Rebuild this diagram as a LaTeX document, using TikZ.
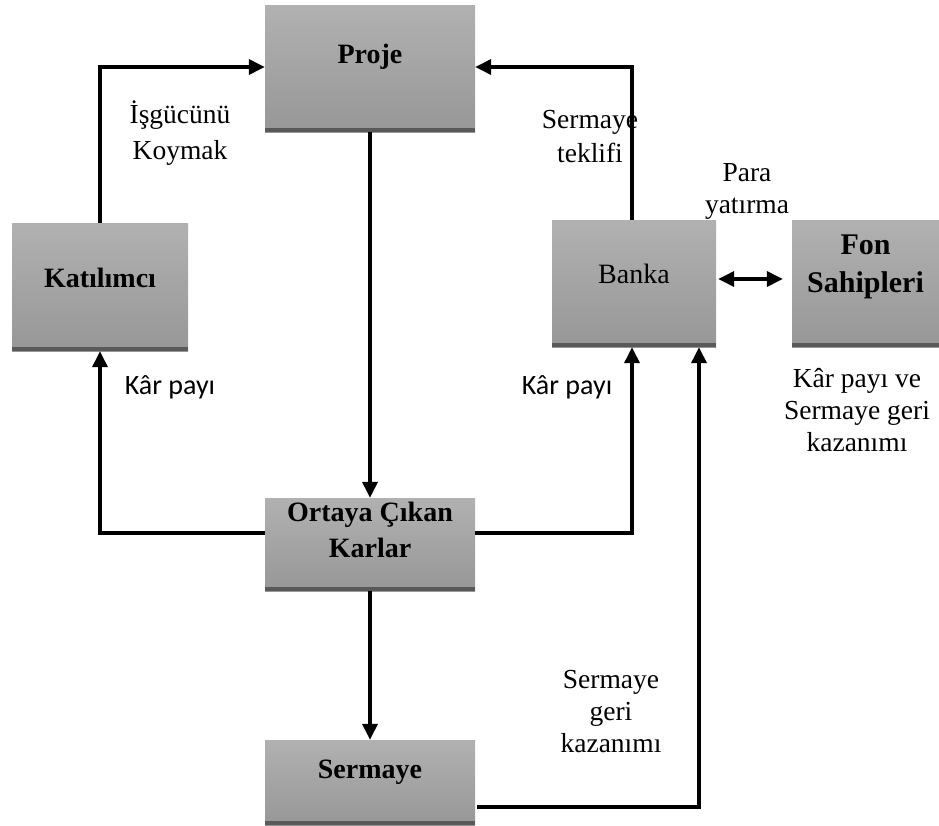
\documentclass[tikz,border=0pt]{standalone}
\usepackage{fontspec}
\setmainfont{Liberation Serif}
\newfontfamily\labelsans{Carlito}
\usetikzlibrary{arrows.meta}
\definecolor{boxtop}{HTML}{B1B1B1}
\definecolor{boxbottom}{HTML}{979797}
\definecolor{boxbar}{HTML}{595959}
\begin{document}
\begin{tikzpicture}[x=1pt,y=-1pt,
  box/.style={rectangle, inner sep=0pt, top color=boxtop, bottom color=boxbottom,
    path picture={\fill[boxbar] (path picture bounding box.south west)
      rectangle ([yshift=4pt]path picture bounding box.south east);}},
  boxtext/.style={font=\fontsize{28}{36}\selectfont\bfseries, align=center, inner sep=0pt},
  banktext/.style={font=\fontsize{28}{36}\selectfont, align=center, inner sep=0pt},
  note/.style={font=\fontsize{27.5}{32}\selectfont, align=center, inner sep=0pt},
  sansnote/.style={font=\labelsans\fontsize{28}{32}\selectfont, inner sep=0pt},
  flow/.style={line width=3.5pt, -{Triangle[length=16pt,width=15pt]}},
  both/.style={line width=3.5pt, {Triangle[length=16pt,width=15pt]}-{Triangle[length=16pt,width=15pt]}},
]
\useasboundingbox (0,0) rectangle (939,825);

% boxes
\node[box, minimum width=210pt, minimum height=127pt] (proje) at (370,68.5) {};
\node[box, minimum width=176pt, minimum height=128pt] (kat) at (100,287) {};
\node[box, minimum width=164pt, minimum height=127pt] (banka) at (634,283.5) {};
\node[box, minimum width=147pt, minimum height=127pt] (fon) at (865.5,283.5) {};
\node[box, minimum width=210pt, minimum height=93pt] (ort) at (370,544.5) {};
\node[box, minimum width=210pt, minimum height=85pt] (serm) at (370,782.5) {};

% box captions
\node[boxtext] (projeT) at ([yshift=12pt]proje.center) {Proje};
\node[boxtext] (katT) at ([yshift=9pt]kat.center) {Katılımcı};
\node[banktext] (bankaT) at ([yshift=10pt]banka.center) {Banka};
\node[boxtext, font=\fontsize{30}{38}\selectfont\bfseries] (fonT) at ([yshift=17pt]fon.center) {Fon\\Sahipleri};
\node[boxtext] (ortT) at ([yshift=15pt]ort.center) {Ortaya Çıkan\\Karlar};
\node[boxtext] (sermT) at ([yshift=10pt]serm.center) {Sermaye};

% flows
\draw[flow] (kat.north) |- ([yshift=1.5pt]proje.west);
\draw[flow] (proje.south) -- (ort.north);
\draw[flow] ([yshift=11.5pt]ort.west) -| (kat.south);
\draw[flow] ([yshift=11.5pt]ort.east) -| ([xshift=-2pt]banka.south);
\draw[flow] ([xshift=-2pt]banka.north) |- ([yshift=1.5pt]proje.east);
\draw[both, shorten <=2pt, shorten >=9pt] ([yshift=4.5pt]banka.east) -- ([yshift=4.5pt]fon.west);
\draw[flow] (ort.south) -- (serm.north);
\draw[flow] ([yshift=-24.5pt,xshift=2pt]serm.east) -| ([xshift=65pt]banka.south);

% labels
\node[note, font=\fontsize{27.5}{36}\selectfont] (isgucu) at (180,133) {İşgücünü\\Koymak};
\node[sansnote] (karL) at (170,387) {Kâr payı};
\node[note, font=\fontsize{27.5}{34}\selectfont] (teklif) at (590,137) {Sermaye\\teklifi};
\node[note] (para) at (747,191) {Para\\yatırma};
\node[sansnote] (karR) at (567,387) {Kâr payı};
\node[note] (fonNote) at (857,410) {Kâr payı ve\\Sermaye geri\\kazanımı};
\node[note] (geri) at (611,712) {Sermaye\\geri\\kazanımı};
\end{tikzpicture}
\end{document}
